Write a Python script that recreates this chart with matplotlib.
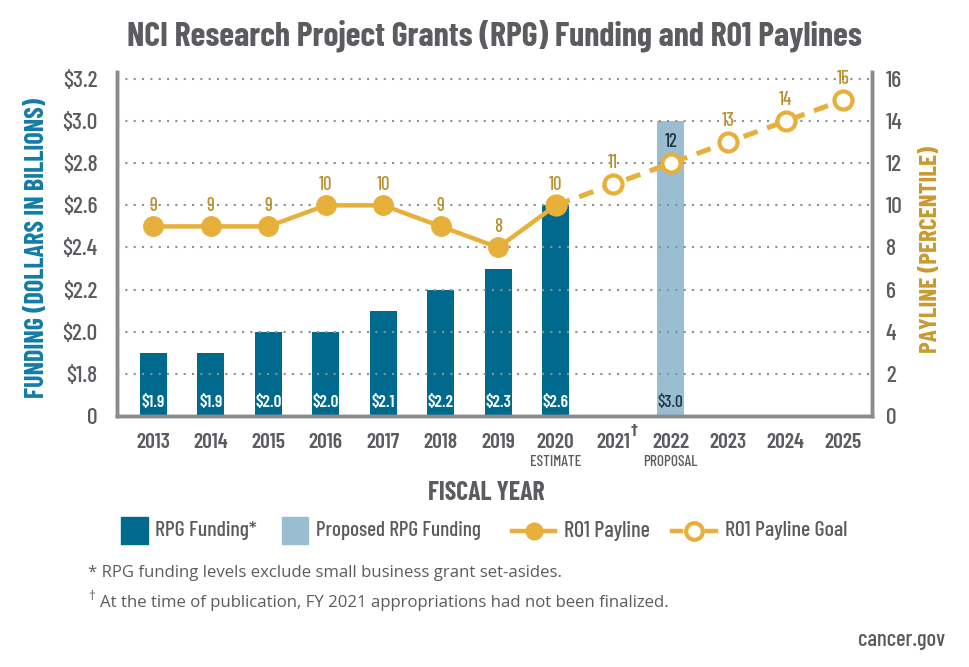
import matplotlib
matplotlib.use("Agg")
import matplotlib.pyplot as plt
import matplotlib.transforms as mtransforms
from matplotlib.patches import Rectangle
from matplotlib.lines import Line2D
from matplotlib import font_manager

names = {f.name for f in font_manager.fontManager.ttflist}
def pick(*cands):
    for c in cands:
        if c in names:
            return c
    return "DejaVu Sans"

COND = pick("Barlow Condensed", "Roboto Condensed", "PT Sans Narrow", "Archivo Narrow", "Oswald")
PLAIN = pick("Open Sans", "Lato", "Noto Sans")

# data
years = ["2013", "2014", "2015", "2016", "2017", "2018", "2019", "2020",
         "2021", "2022", "2023", "2024", "2025"]
funding = [1.9, 1.9, 2.0, 2.0, 2.1, 2.2, 2.3, 2.6]          # 2013-2020
proposed_year = "2022"
proposed_funding = 3.0
payline_years = years[:8]
payline = [9, 9, 9, 10, 10, 9, 8, 10]
goal_years = ["2020", "2021", "2022", "2023", "2024", "2025"]
goal = [10, 11, 12, 13, 14, 15]
left_ticks = [1.6, 1.8, 2.0, 2.2, 2.4, 2.6, 2.8, 3.0, 3.2]
left_labels = ["0", "$1.8", "$2.0", "$2.2", "$2.4", "$2.6", "$2.8", "$3.0", "$3.2"]
right_ticks = [0, 2, 4, 6, 8, 10, 12, 14, 16]

TEAL = "#006a8e"
LIGHT = "#9bbdd1"
GOLD = "#e6b03a"
GOLD_TXT = "#b8902e"
GRAY = "#5b5c60"
AXIS = "#8a8b8e"
DARK = "#1d3445"

W, H = 970, 667
fig = plt.figure(figsize=(W / 100, H / 100), dpi=100)
renderer = fig.canvas.get_renderer()

def fx(px):
    return px / W

def fy(py):
    return 1 - py / H

def fit(t, size_px, vertical=False):
    bb = t.get_window_extent(renderer)
    cur = bb.height if vertical else bb.width
    t.set_fontsize(t.get_fontsize() * size_px / cur)

ax = fig.add_axes([fx(117), fy(416), fx(872) - fx(117), fy(72) - fy(416)])
ax2 = ax.twinx()

idx = {y: i for i, y in enumerate(years)}
x_fund = [idx[y] for y in years[:len(funding)]]
base = left_ticks[0]

# bars (broken axis: bottom of axis reads "0")
ax.bar(x_fund, [v - base for v in funding], bottom=base, width=0.47, color=TEAL, zorder=2)
ax.bar(idx[proposed_year], proposed_funding - base, bottom=base, width=0.47, color=LIGHT, zorder=2)
for xi, v in zip(x_fund, funding):
    ax.annotate(f"${v:.1f}", (xi, base), xytext=(0, 9.5), textcoords="offset points",
                ha="center", va="center", color="white", fontsize=12.5, fontweight="semibold",
                family=COND, zorder=3)
ax.annotate(f"${proposed_funding:.1f}", (idx[proposed_year], base), xytext=(0, 9.5),
            textcoords="offset points", ha="center", va="center", color=DARK, fontsize=12.5,
            fontweight="medium", family=COND, zorder=3)

ax.set_ylim(base, base + 16.33 / 10)
ax.set_xlim(-0.63, 12.5)
ax.set_yticks(left_ticks)
ax.set_yticklabels(left_labels)
ax.set_xticks(range(len(years)))
ax.set_xticklabels(years)

# paylines on the percentile axis
ax2.set_ylim(0, 16.33)
ax2.set_yticks(right_ticks)
for t in right_ticks[1:]:
    ax2.axhline(t, color="#8e8f91", lw=1.5, ls=(0, (1, 3)), zorder=1)

xg = [idx[y] for y in goal_years]
ax2.plot(xg, goal, color=GOLD, lw=3.6, dashes=(3.0, 2.0), zorder=4,
         marker="o", ms=13, mfc="white", mec=GOLD, mew=3)
xp = [idx[y] for y in payline_years]
ax2.plot(xp, payline, color=GOLD, lw=3.2, zorder=5, marker="o", ms=14, mfc=GOLD, mec=GOLD)

for xi, v in zip(xp, payline):
    ax2.annotate(str(v), (xi, v), xytext=(0, 15), textcoords="offset points", ha="center",
                 va="center", color=GOLD_TXT, fontsize=13.5, fontweight="medium", family=COND)
for xi, v in zip(xg[1:], goal[1:]):
    c = DARK if years[xi] == proposed_year else GOLD_TXT
    ax2.annotate(str(v), (xi, v), xytext=(0, 15), textcoords="offset points", ha="center",
                 va="center", color=c, fontsize=13.5, fontweight="medium", family=COND)

for a in (ax, ax2):
    a.spines["top"].set_visible(False)
    for s in ("left", "right", "bottom"):
        a.spines[s].set_color(AXIS)
        a.spines[s].set_linewidth(2.5)
    a.tick_params(length=0)
ax.tick_params(axis="y", labelsize=17, labelcolor=GRAY, pad=14)
ax.tick_params(axis="x", labelsize=15.5, labelcolor=GRAY, pad=12)
ax2.tick_params(axis="y", labelsize=17, labelcolor=GRAY, pad=10)
for lab in ax.get_yticklabels() + ax2.get_yticklabels() + ax.get_xticklabels():
    lab.set_family(COND)
    lab.set_fontweight("medium")
for lab in ax.get_xticklabels():
    lab.set_fontweight("semibold")

trans = mtransforms.blended_transform_factory(ax.transData, ax.transAxes)
ax.text(idx["2020"], -0.135, "ESTIMATE", transform=trans, ha="center", va="center",
        fontsize=11, color=GRAY, family=COND, fontweight="medium")
ax.text(idx["2022"], -0.135, "PROPOSAL", transform=trans, ha="center", va="center",
        fontsize=11, color=GRAY, family=COND, fontweight="medium")
ax.annotate("†", (idx["2021"], 0), xycoords=trans, xytext=(15, -10), textcoords="offset points",
            ha="center", va="center", fontsize=10, color=GRAY, family="DejaVu Sans",
            fontweight="bold")

# titles and axis labels
title = fig.text(fx(494), fy(36), "NCI Research Project Grants (RPG) Funding and R01 Paylines",
                 ha="center", va="center", fontsize=24, fontweight="bold", color=GRAY, family=COND)
fit(title, 735)
lab_l = fig.text(fx(37), fy(248), "FUNDING (DOLLARS IN BILLIONS)", rotation=90, ha="center",
                 va="center", fontsize=20, fontweight="bold", color="#137ca6", family=COND)
fit(lab_l, 300, vertical=True)
lab_r = fig.text(fx(931), fy(250), "PAYLINE (PERCENTILE)", rotation=90, ha="center",
                 va="center", fontsize=20, fontweight="bold", color="#c99a2e", family=COND)
fit(lab_r, 207, vertical=True)
lab_x = fig.text(fx(486), fy(493), "FISCAL YEAR", ha="center", va="center", fontsize=20,
                 fontweight="bold", color=GRAY, family=COND)
fit(lab_x, 117)

# legend
ly = 531
fig.add_artist(Rectangle((fx(121), fy(544)), fx(27), fy(517) - fy(544), color=TEAL,
                         transform=fig.transFigure))
fig.add_artist(Rectangle((fx(282), fy(544)), fx(26), fy(517) - fy(544), color=LIGHT,
                         transform=fig.transFigure))
fig.add_artist(Line2D([fx(512), fx(555)], [fy(ly), fy(ly)], color=GOLD, lw=3.2,
                      transform=fig.transFigure))
fig.add_artist(Line2D([fx(533.5)], [fy(ly)], color=GOLD, marker="o", ms=13, mew=0,
                      transform=fig.transFigure))
fig.add_artist(Line2D([fx(672), fx(681)], [fy(ly), fy(ly)], color=GOLD, lw=3.2,
                      transform=fig.transFigure))
fig.add_artist(Line2D([fx(707), fx(716)], [fy(ly), fy(ly)], color=GOLD, lw=3.2,
                      transform=fig.transFigure))
fig.add_artist(Line2D([fx(694)], [fy(ly)], color=GOLD, marker="o", ms=12, mfc="white", mew=3,
                      transform=fig.transFigure))
for x0, x1, s in [(155, 257, "RPG Funding*"), (316, 482, "Proposed RPG Funding"),
                  (564, 650, "R01 Payline"), (725, 848, "R01 Payline Goal")]:
    t = fig.text(fx(x0), fy(ly), s, ha="left", va="center", fontsize=16, color=GRAY,
                 family=COND, fontweight="medium")
    fit(t, x1 - x0)

f1 = fig.text(fx(88), fy(573), "* RPG funding levels exclude small business grant set-asides.",
              fontsize=12, color=GRAY, family=PLAIN, va="center")
fit(f1, 472)
f2 = fig.text(fx(100), fy(603), "At the time of publication, FY 2021 appropriations had not been finalized.",
              fontsize=12, color=GRAY, family=PLAIN, va="center")
f2.set_fontsize(f1.get_fontsize())
fig.text(fx(88), fy(597), "†", fontsize=f1.get_fontsize() * 0.8, color=GRAY, family=PLAIN,
         va="center")
cg = fig.text(fx(945), fy(640), "cancer.gov", fontsize=13, color=GRAY, family=COND, ha="right",
              va="center", fontweight="medium")
fit(cg, 87)

fig.savefig("out.png", dpi=100, facecolor="white")
